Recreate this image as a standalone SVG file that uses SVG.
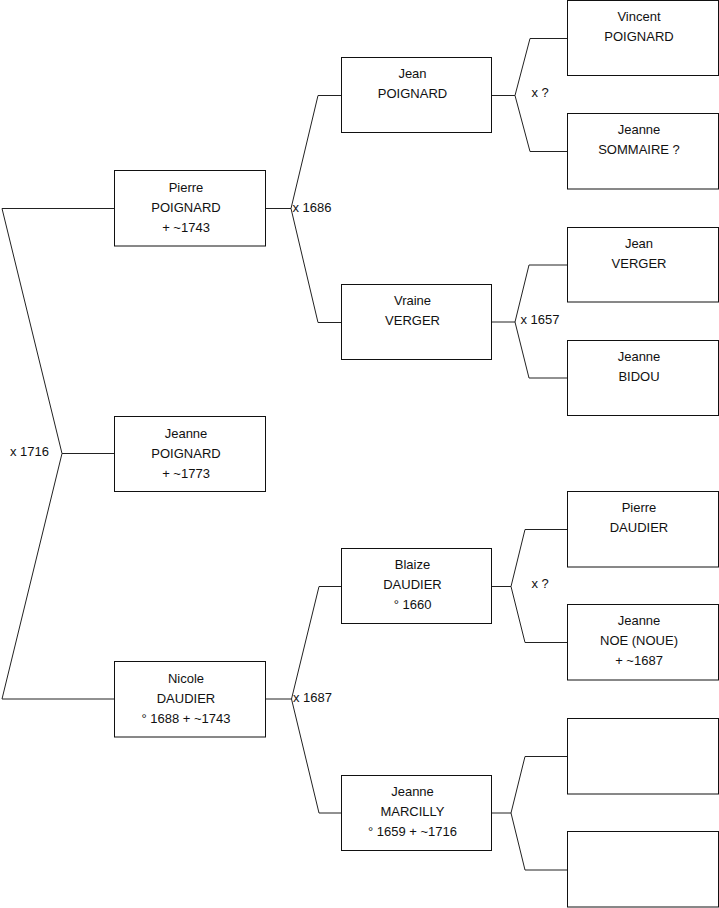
<svg xmlns="http://www.w3.org/2000/svg" width="719" height="908" viewBox="0 0 719 908">
<style>
.box{fill:#fff;stroke:#111;stroke-width:1}
.ln{fill:none;stroke:#222;stroke-width:1}
text{font-family:"Liberation Sans",Arial,sans-serif;font-size:13px;fill:#111}
.c1{text-anchor:middle}
</style>
<rect width="719" height="908" fill="#fff"/>
<g id="connectors">
<path class="ln" d="M114,208.5 H2 L62,453.5 L2,699 H114 M62,453.5 H114"/>
<path class="ln" d="M265.5,208.5 H291 L318,95.5 H341 M291,208.5 L318,322.5 H341"/>
<path class="ln" d="M265.5,699 H291.5 L319,586.5 H341 M291.5,699 L319,813 H341"/>
<path class="ln" d="M491.5,95.5 H515 L530,38.5 H567 M515,95.5 L530,151.5 H567"/>
<path class="ln" d="M491.5,322 H515 L529,265 H567 M515,322 L529,378 H567"/>
<path class="ln" d="M491.5,586.5 H511 L525,529.5 H567 M511,586.5 L525,642.5 H567"/>
<path class="ln" d="M491.5,813 H511 L525,756.5 H567 M511,813 L525,870 H567"/>
<text x="10" y="456">x 1716</text>
<text x="292.5" y="211.5">x 1686</text>
<text x="293" y="702">x 1687</text>
<text x="531.5" y="96.5">x ?</text>
<text x="520.5" y="324">x 1657</text>
<text x="531.5" y="587.5">x ?</text>
</g>
<g id="pierre-poignard"><rect class="box" x="114.5" y="170.5" width="151" height="75.5"/>
<text class="c1" x="186" y="191.5">Pierre</text><text class="c1" x="186" y="211.5">POIGNARD</text><text class="c1" x="186" y="231.5">+ ~1743</text></g>
<g id="jeanne-poignard"><rect class="box" x="114.5" y="416.5" width="151" height="75"/>
<text class="c1" x="186" y="437.5">Jeanne</text><text class="c1" x="186" y="457.5">POIGNARD</text><text class="c1" x="186" y="477.5">+ ~1773</text></g>
<g id="nicole-daudier"><rect class="box" x="114.5" y="661.5" width="151" height="75.5"/>
<text class="c1" x="186" y="682.5">Nicole</text><text class="c1" x="186" y="702.5">DAUDIER</text><text class="c1" x="186" y="722.5">° 1688 + ~1743</text></g>
<g id="jean-poignard"><rect class="box" x="341.5" y="57.5" width="150" height="75"/>
<text class="c1" x="412.5" y="78">Jean</text><text class="c1" x="412.5" y="98">POIGNARD</text></g>
<g id="vraine-verger"><rect class="box" x="341.5" y="284.5" width="150" height="75"/>
<text class="c1" x="412.5" y="305">Vraine</text><text class="c1" x="412.5" y="325">VERGER</text></g>
<g id="blaize-daudier"><rect class="box" x="341.5" y="548.5" width="150" height="75"/>
<text class="c1" x="412.5" y="569">Blaize</text><text class="c1" x="412.5" y="589">DAUDIER</text><text class="c1" x="412.5" y="609">° 1660</text></g>
<g id="jeanne-marcilly"><rect class="box" x="341.5" y="775.5" width="150" height="75"/>
<text class="c1" x="412.5" y="796">Jeanne</text><text class="c1" x="412.5" y="816">MARCILLY</text><text class="c1" x="412.5" y="836">° 1659 + ~1716</text></g>
<g id="vincent-poignard"><rect class="box" x="567.5" y="0.5" width="151" height="75"/>
<text class="c1" x="639" y="20.5">Vincent</text><text class="c1" x="639" y="40.5">POIGNARD</text></g>
<g id="jeanne-sommaire"><rect class="box" x="567.5" y="113.5" width="151" height="75.5"/>
<text class="c1" x="639" y="134">Jeanne</text><text class="c1" x="639" y="154">SOMMAIRE ?</text></g>
<g id="jean-verger"><rect class="box" x="567.5" y="227.5" width="151" height="74.5"/>
<text class="c1" x="639" y="248">Jean</text><text class="c1" x="639" y="268">VERGER</text></g>
<g id="jeanne-bidou"><rect class="box" x="567.5" y="340.5" width="151" height="75"/>
<text class="c1" x="639" y="361">Jeanne</text><text class="c1" x="639" y="381">BIDOU</text></g>
<g id="pierre-daudier"><rect class="box" x="567.5" y="491.5" width="151" height="75.5"/>
<text class="c1" x="639" y="512">Pierre</text><text class="c1" x="639" y="532">DAUDIER</text></g>
<g id="jeanne-noe"><rect class="box" x="567.5" y="604.5" width="151" height="75.5"/>
<text class="c1" x="639" y="625">Jeanne</text><text class="c1" x="639" y="645">NOE (NOUE)</text><text class="c1" x="639" y="665">+ ~1687</text></g>
<g id="unknown-1"><rect class="box" x="567.5" y="718.5" width="151" height="75.5"/></g>
<g id="unknown-2"><rect class="box" x="567.5" y="831.5" width="151" height="75.5"/></g>
</svg>
